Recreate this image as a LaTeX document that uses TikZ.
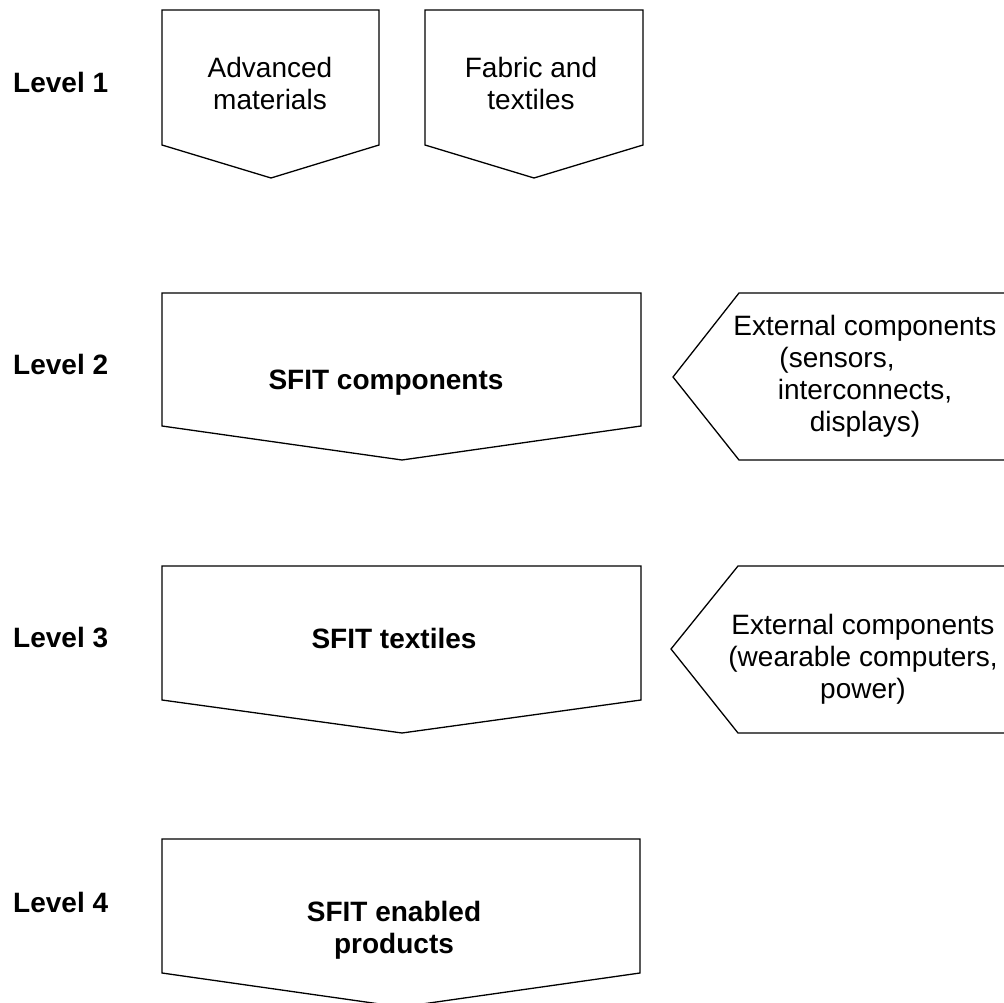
\documentclass[tikz,border=0pt]{standalone}
\usepackage{fontspec}
\setmainfont{Liberation Sans}
\begin{document}
\begin{tikzpicture}[x=1pt,y=-1pt,
  shape line/.style={draw=black, line width=1.3pt, line join=miter},
  lvl/.style={anchor=base west, inner sep=0pt, font=\fontsize{28}{32}\selectfont\bfseries},
  txt/.style={anchor=north, inner sep=0pt, align=center, font=\fontsize{28}{32}\selectfont},
  btxt/.style={txt, font=\fontsize{28}{32}\selectfont\bfseries}]
\useasboundingbox (0,0) rectangle (1004,1003);
\clip (0,0) rectangle (1004,1003);
\fill[white] (0,0) rectangle (1004,1003);

% Level labels
\node[lvl] (l1) at (13,93) {Level 1};
\node[lvl] (l2) at (13,374) {Level 2};
\node[lvl] (l3) at (13,647) {Level 3};
\node[lvl] (l4) at (13,912) {Level 4};

% Level 1 shapes
\draw[shape line] (162,10) -- (379,10) -- (379,145) -- (271,178) -- (162,145) -- cycle;
\draw[shape line] (425,10) -- (643,10) -- (643,145) -- (534,178) -- (425,145) -- cycle;
\node[txt] (adv) at (270,57) {Advanced\\materials};
\node[txt] (fab) at (531,57) {Fabric and\\textiles};

% Level 2
\draw[shape line] (162,293) -- (641,293) -- (641,426) -- (402,460) -- (162,426) -- cycle;
\draw[shape line] (1012,293) -- (739,293) -- (673,377) -- (739,460) -- (1012,460);
\node[btxt] (comp) at (386,370) {SFIT components};
\node[txt] (ext1) at (865,315) {External components\\(sensors,\rule{56pt}{0pt}\\interconnects,\\displays)};

% Level 3
\draw[shape line] (162,566) -- (641,566) -- (641,700) -- (402,733) -- (162,700) -- cycle;
\draw[shape line] (1012,566) -- (738,566) -- (671,649) -- (738,733) -- (1012,733);
\node[btxt] (tex) at (394,628) {SFIT textiles};
\node[txt] (ext2) at (863,614) {External components\\(wearable computers,\\power)};

% Level 4
\draw[shape line] (162,839) -- (640,839) -- (640,973) -- (401,1007) -- (162,973) -- cycle;
\node[btxt] (prod) at (394,901) {SFIT enabled\\products};
\end{tikzpicture}
\end{document}
